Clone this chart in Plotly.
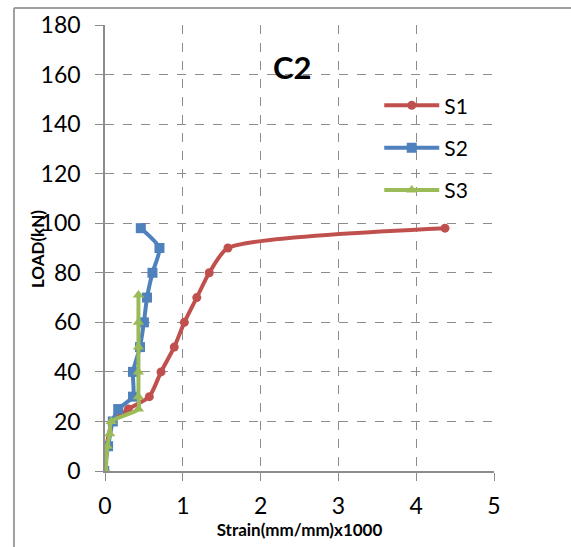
import plotly.graph_objects as go

# Data (strain x1000, load kN)
s1_strain = [0.0, 0.02, 0.10, 0.30, 0.57, 0.72, 0.89, 1.02, 1.18, 1.34, 1.58, 4.37]
s1_load = [0, 10, 20, 25, 30, 40, 50, 60, 70, 80, 90, 98]

s2_strain = [-0.01, 0.04, 0.10, 0.17, 0.36, 0.36, 0.45, 0.50, 0.54, 0.61, 0.70, 0.46]
s2_load = [0, 10, 20, 25, 30, 40, 50, 60, 70, 80, 90, 98]

s3_strain = [0.01, 0.03, 0.06, 0.08, 0.43, 0.43, 0.43, 0.43, 0.43, 0.43]
s3_load = [0, 10, 15, 20, 25, 30, 40, 50, 60, 71]

x_ticks = [0, 1, 2, 3, 4, 5]
y_ticks = [0, 20, 40, 60, 80, 100, 120, 140, 160, 180]

FONT = "Lato"

fig = go.Figure()
fig.add_trace(go.Scatter(x=s1_strain, y=s1_load, name="S1", mode="lines+markers",
                         line=dict(color="#C0504D", width=4, shape="spline", smoothing=0.6),
                         marker=dict(symbol="circle", size=9, color="#C0504D"),
                         legendgroup="a"))
fig.add_trace(go.Scatter(x=s2_strain, y=s2_load, name="S2", mode="lines+markers",
                         line=dict(color="#4F81BD", width=4, shape="spline", smoothing=0.6),
                         marker=dict(symbol="square", size=10, color="#4F81BD"),
                         legendgroup="b"))
fig.add_trace(go.Scatter(x=s3_strain, y=s3_load, name="S3", mode="lines+markers",
                         line=dict(color="#9BBB59", width=4, shape="spline", smoothing=0.6),
                         marker=dict(symbol="triangle-up", size=10, color="#9BBB59"),
                         legendgroup="c"))

axis_common = dict(showgrid=True, gridcolor="#8C8C8C", griddash="dash", gridwidth=1,
                   showline=True, linecolor="#8C8C8C", linewidth=1.5,
                   ticks="outside", ticklen=8, tickcolor="#8C8C8C",
                   zeroline=False, automargin=False,
                   tickfont=dict(family=FONT, size=23, color="black"))

fig.update_xaxes(range=[0, 5], tickvals=x_ticks, ticklabelstandoff=6, **axis_common,
                 title=dict(text="<b>Strain(mm/mm)x1000</b>",
                            font=dict(family=FONT, size=17, color="black"), standoff=6))
fig.update_yaxes(range=[0, 180], tickvals=y_ticks, ticklabelstandoff=10, **axis_common)

fig.update_layout(
    width=571, height=547,
    margin=dict(l=105, r=77, t=25, b=76),
    paper_bgcolor="white", plot_bgcolor="white",
    showlegend=True,
    legend=dict(x=0.705, y=0.865, xanchor="left", yanchor="top",
                font=dict(family=FONT, size=21, color="black"),
                tracegroupgap=12, bgcolor="rgba(0,0,0,0)", itemwidth=55),
    annotations=[
        dict(text="<b>C2</b>", x=0.482, y=0.905, xref="paper", yref="paper",
             xanchor="center", yanchor="middle",
             showarrow=False, font=dict(family=FONT, size=31, color="black")),
        dict(text="<b>LOAD(kN)</b>", x=-0.173, y=0.497, xref="paper", yref="paper",
             xanchor="center", yanchor="middle", textangle=-90,
             showarrow=False, font=dict(family=FONT, size=17, color="black")),
    ],
    shapes=[
        dict(type="line", xref="paper", yref="paper", x0=-0.234, x1=1.3, y0=1.038, y1=1.038,
             line=dict(color="#A0A0A0", width=2)),
        dict(type="line", xref="paper", yref="paper", x0=-0.234, x1=-0.234, y0=1.038, y1=-0.3,
             line=dict(color="#A0A0A0", width=2)),
    ],
)

fig.write_html("out.html")
